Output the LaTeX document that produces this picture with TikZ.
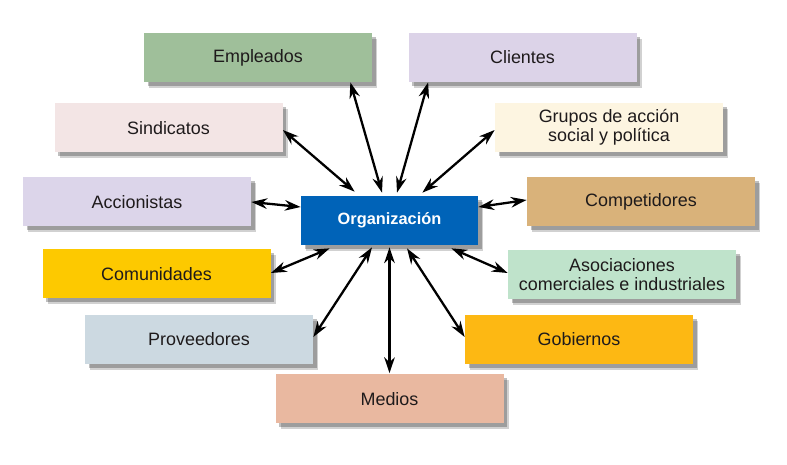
\documentclass[tikz,border=0pt]{standalone}
\usepackage{fontspec}
\setmainfont{Liberation Sans}
\usepackage{xcolor}
\usepackage{tikz}
\usetikzlibrary{arrows.meta, shadows}

\definecolor{textcol}{HTML}{1E1A1B}
\definecolor{empcol}{HTML}{9FBF9A}
\definecolor{clicol}{HTML}{DCD3E8}
\definecolor{sincol}{HTML}{F3E5E5}
\definecolor{grucol}{HTML}{FDF5E1}
\definecolor{acccol}{HTML}{DCD5EA}
\definecolor{compcol}{HTML}{D9B27A}
\definecolor{orgcol}{HTML}{0063B8}
\definecolor{comucol}{HTML}{FDC900}
\definecolor{asocol}{HTML}{BFE3CB}
\definecolor{procol}{HTML}{CCD9E1}
\definecolor{gobcol}{HTML}{FDB813}
\definecolor{medcol}{HTML}{E9B8A0}

\begin{document}
\begin{tikzpicture}[
  box/.style={rectangle, minimum width=4.56cm, minimum height=0.98cm, inner sep=0pt,
    align=center, text=textcol, font=\fontsize{10.2}{10.8}\selectfont,
    drop shadow={shadow xshift=0.1cm, shadow yshift=-0.12cm, fill=black, opacity=0.18},
    drop shadow={shadow xshift=0.07cm, shadow yshift=-0.08cm, fill=black, opacity=0.25}},
  link/.style={{Stealth[length=9pt,width=6pt]}-{Stealth[length=9pt,width=6pt]}, line width=1.3pt, black}
]
\useasboundingbox (0,0) rectangle (15.74,9.30);

% Central node
\node[box, fill=orgcol, text=white, minimum width=3.54cm, font=\fontsize{9.3}{11}\selectfont\bfseries] (org) at (7.79,4.89) {Organización};

% Stakeholders
\node[box, fill=empcol]  (emp)  at (5.16,8.15)  {Empleados};
\node[box, fill=clicol]  (cli)  at (10.45,8.15) {Clientes};
\node[box, fill=sincol]  (sin)  at (3.37,6.74)  {Sindicatos};
\node[box, fill=grucol]  (gru)  at (12.18,6.75) {Grupos de acción\\social y política};
\node[box, fill=acccol]  (acc)  at (2.74,5.26)  {Accionistas};
\node[box, fill=compcol] (comp) at (12.82,5.27) {Competidores};
\node[box, fill=comucol] (comu) at (3.13,3.82)  {Comunidades};
\node[box, fill=asocol]  (aso)  at (12.44,3.81) {Asociaciones\\comerciales e industriales};
\node[box, fill=procol]  (pro)  at (3.98,2.51)  {Proveedores};
\node[box, fill=gobcol]  (gob)  at (11.58,2.51) {Gobiernos};
\node[box, fill=medcol]  (med)  at (7.79,1.32)  {Medios};

% Arrows
\draw[link] ([xshift=-0.44cm]emp.south east) -- ([xshift=-0.15cm,yshift=0.06cm]org.north);
\draw[link] ([xshift=0.4cm]cli.south west) -- ([xshift=0.15cm,yshift=0.06cm]org.north);
\draw[link] ([yshift=-0.04cm]sin.east) -- ([xshift=1.08cm,yshift=0.08cm]org.north west);
\draw[link] ([yshift=-0.05cm]gru.west) -- ([xshift=-1.12cm,yshift=0.06cm]org.north east);
\draw[link] (acc.east) -- ([yshift=0.27cm]org.west);
\draw[link] ([yshift=0.27cm]org.east) -- ([yshift=0.03cm]comp.west);
\draw[link] ([yshift=0.02cm]comu.east) -- ([xshift=0.58cm,yshift=-0.06cm]org.south west);
\draw[link] ([yshift=0.05cm]pro.east) -- ([xshift=-0.35cm,yshift=-0.04cm]org.south);
\draw[link] ([yshift=-0.04cm]org.south) -- ([yshift=0.02cm]med.north);
\draw[link] ([yshift=0.05cm]gob.west) -- ([xshift=0.35cm,yshift=-0.06cm]org.south);
\draw[link] ([xshift=-0.54cm,yshift=-0.06cm]org.south east) -- ([yshift=0.03cm]aso.west);
\end{tikzpicture}
\end{document}
